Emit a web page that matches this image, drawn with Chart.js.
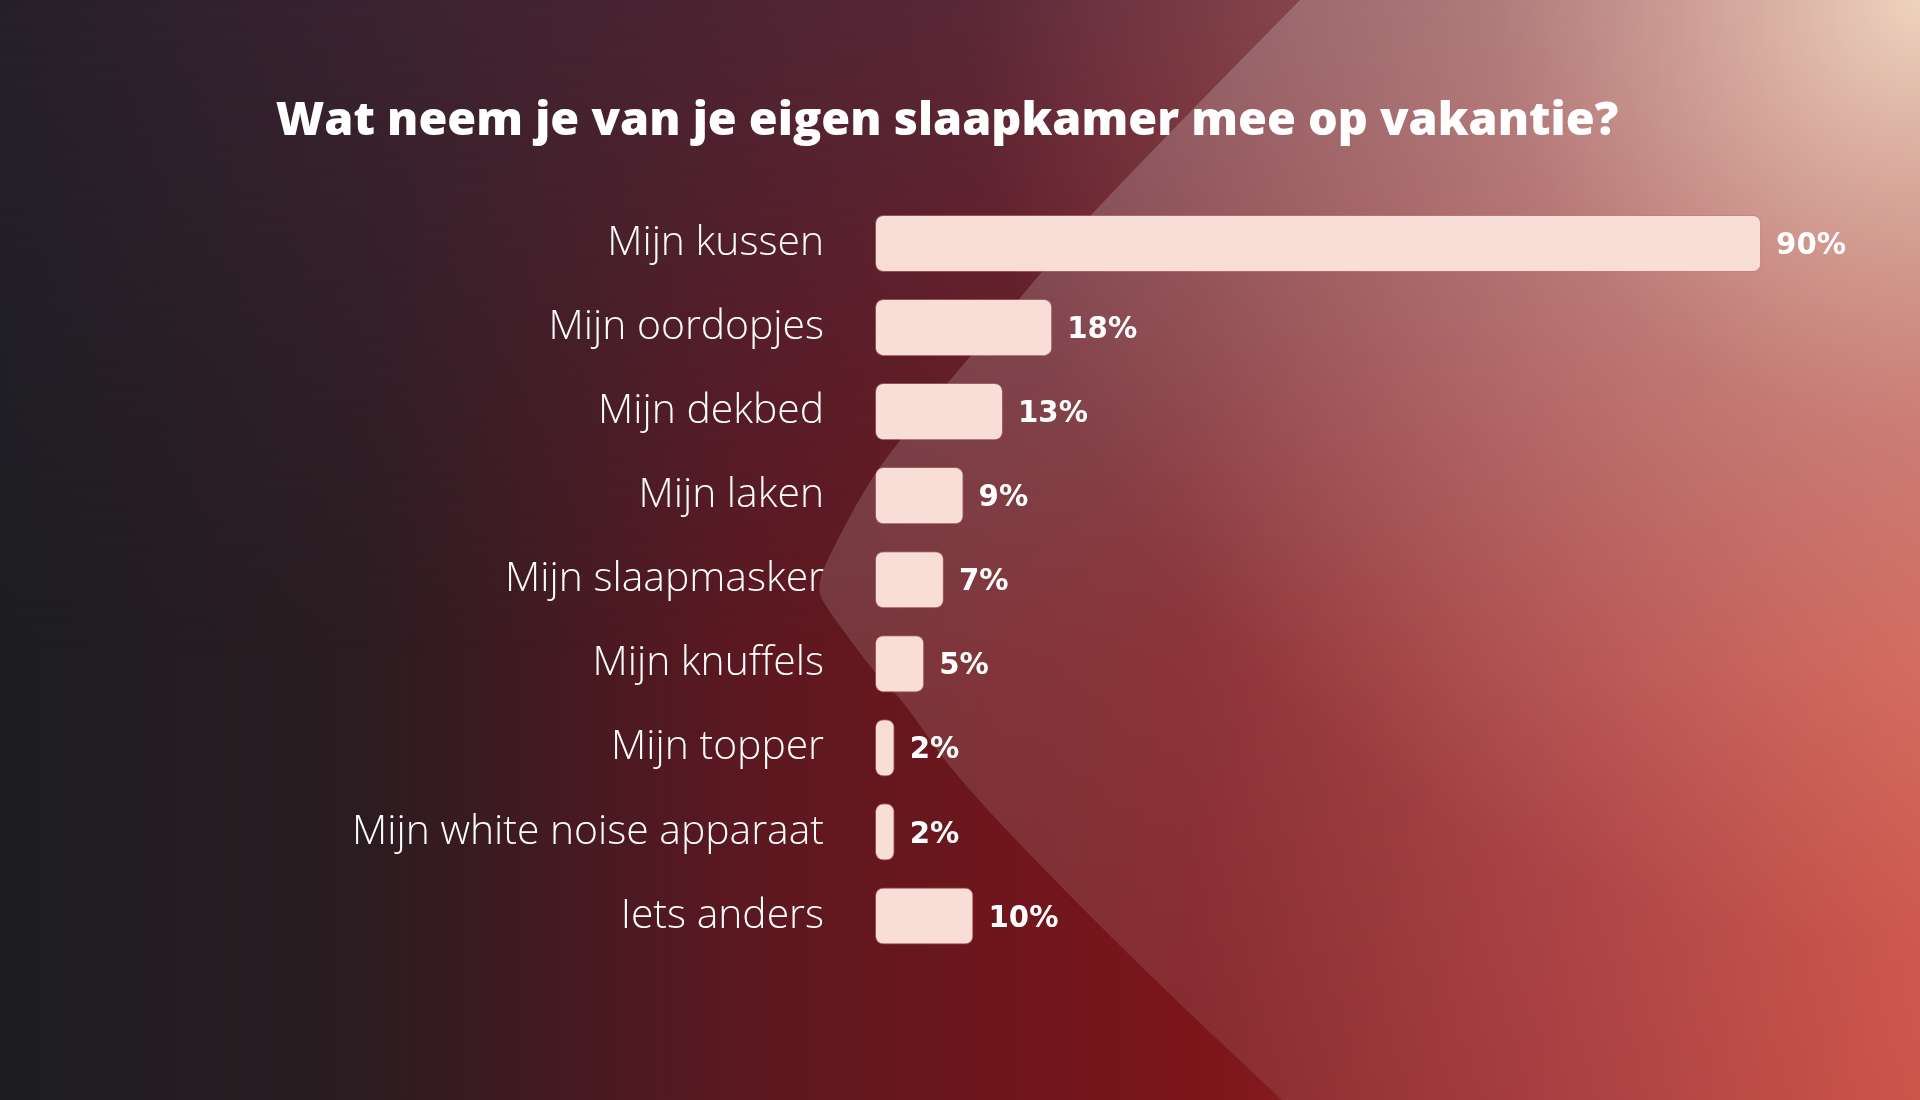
<!DOCTYPE html>
<html>
<head>
<meta charset="utf-8">
<script src="https://cdn.jsdelivr.net/npm/chart.js@4/dist/chart.umd.min.js"></script>
<style>
  html, body { margin: 0; padding: 0; background: #1c1d21; }
  #wrap { position: relative; width: 1920px; height: 1100px; }
</style>
</head>
<body>
<div id="wrap"><canvas id="survey"></canvas></div>
<script>
// --- data ---
const categories = [
  'Mijn kussen',
  'Mijn oordopjes',
  'Mijn dekbed',
  'Mijn laken',
  'Mijn slaapmasker',
  'Mijn knuffels',
  'Mijn topper',
  'Mijn white noise apparaat',
  'Iets anders'
];
const percentages = [90, 18, 13, 9, 7, 5, 2, 2, 10];
const chartTitle = 'Wat neem je van je eigen slaapkamer mee op vakantie?';

// horizontal colour bands for the backdrop (top row / lower rows)
const topRow = [[0, '#26202a'], [0.19, '#3a2330'], [0.38, '#4e2433'], [0.57, '#602a3a'], [0.75, '#6a2a3a'], [1, '#7e323d']];
const lowRow = [[0, '#1c1d21'], [0.19, '#2b1c21'], [0.38, '#5a1820'], [0.52, '#6e161c'], [0.62, '#7a151a'], [0.8, '#9e2b2e'], [1, '#c84539']];
// outline of the light sheen on the right
const sheenEdge = [[1300, 0], [1090, 213], [1033, 283], [950, 380], [900, 440], [870, 480], [837, 540], [815, 587],
  [830, 613], [880, 680], [903, 700], [957, 780], [1133, 960], [1282, 1100]];

// pick a font size so a string gets a given width
const fitSize = (text, font, target) => {
  const c = document.createElement('canvas').getContext('2d');
  c.font = font.replace('{s}', '100px');
  return 100 * target / c.measureText(text).width;
};
const titleSize = fitSize(chartTitle, '800 {s} "Open Sans"', 1343);
const tickSize = fitSize('Mijn white noise apparaat', '300 {s} "Open Sans"', 472);
const valueSize = fitSize('90%', 'bold {s} "DejaVu Sans"', 70);
const titleLine = titleSize * 1.2;
const titleTop = 122 - titleLine / 2;

const hGrad = (ctx, w, stops) => {
  const g = ctx.createLinearGradient(0, 0, w, 0);
  stops.forEach(s => g.addColorStop(s[0], s[1]));
  return g;
};

// background: blended gradients + light curved overlay on the right
const backdrop = {
  id: 'backdrop',
  beforeDraw(chart) {
    const { ctx, width: w, height: h } = chart;
    ctx.save();
    ctx.fillStyle = hGrad(ctx, w, topRow);
    ctx.fillRect(0, 0, w, h);

    // lower band faded in from the top
    const off = document.createElement('canvas');
    off.width = w; off.height = h;
    const o = off.getContext('2d');
    o.fillStyle = hGrad(o, w, lowRow);
    o.fillRect(0, 0, w, h);
    o.globalCompositeOperation = 'destination-in';
    const fade = o.createLinearGradient(0, 0, 0, h * 0.6);
    fade.addColorStop(0, 'rgba(0,0,0,0)');
    fade.addColorStop(1, 'rgba(0,0,0,1)');
    o.fillStyle = fade;
    o.fillRect(0, 0, w, h);
    ctx.drawImage(off, 0, 0);

    // peach glow top right
    const glow = ctx.createRadialGradient(w, 0, 0, w, 0, 950);
    glow.addColorStop(0, 'rgba(234,200,174,1)');
    glow.addColorStop(0.45, 'rgba(222,155,136,0.42)');
    glow.addColorStop(1, 'rgba(220,130,110,0)');
    ctx.fillStyle = glow;
    ctx.fillRect(0, 0, w, h);

    // translucent sheen
    const sheen = ctx.createLinearGradient(0, 0, 0, h);
    sheen.addColorStop(0, 'rgba(255,255,255,0.2)');
    sheen.addColorStop(1, 'rgba(255,255,255,0.09)');
    ctx.fillStyle = sheen;
    ctx.beginPath();
    ctx.moveTo(sheenEdge[0][0], sheenEdge[0][1]);
    for (let i = 1; i < sheenEdge.length - 1; i++) {
      const [x, y] = sheenEdge[i];
      const [nx, ny] = sheenEdge[i + 1];
      ctx.quadraticCurveTo(x, y, (x + nx) / 2, (y + ny) / 2);
    }
    const last = sheenEdge[sheenEdge.length - 1];
    ctx.lineTo(last[0], last[1]);
    ctx.lineTo(w, h);
    ctx.lineTo(w, 0);
    ctx.closePath();
    ctx.fill();
    ctx.restore();
  }
};

// percentage next to each bar
const valueLabels = {
  id: 'valueLabels',
  afterDatasetsDraw(chart) {
    const { ctx } = chart;
    const bars = chart.getDatasetMeta(0).data;
    ctx.save();
    ctx.fillStyle = '#ffffff';
    ctx.font = `bold ${valueSize}px "DejaVu Sans"`;
    ctx.textAlign = 'left';
    ctx.textBaseline = 'middle';
    bars.forEach((bar, i) => {
      ctx.fillText(percentages[i] + '%', bar.x + 15, bar.y + 3);
    });
    ctx.restore();
  }
};

const ctx = document.getElementById('survey').getContext('2d');
new Chart(ctx, {
  type: 'bar',
  data: {
    labels: categories,
    datasets: [{
      data: percentages,
      backgroundColor: '#f9ddd7',
      borderColor: 'rgba(196,120,118,0.55)',
      borderWidth: 1,
      borderRadius: 8,
      borderSkipped: false,
      barPercentage: 0.68,
      categoryPercentage: 1
    }]
  },
  options: {
    indexAxis: 'y',
    responsive: true,
    maintainAspectRatio: false,
    devicePixelRatio: 1,
    animation: false,
    layout: { padding: { left: 0, right: 26, top: 0, bottom: 142 } },
    scales: {
      x: { display: false, min: 0, max: 103.5 },
      y: {
        grid: { display: false, drawTicks: false },
        border: { display: false },
        ticks: {
          color: '#ffffff',
          padding: 51,
          font: { family: 'Open Sans', weight: 300, size: tickSize }
        },
        afterFit: (scale) => { scale.width = 875; }
      }
    },
    plugins: {
      legend: { display: false },
      tooltip: { enabled: false },
      title: {
        display: true,
        text: chartTitle,
        color: '#ffffff',
        font: { family: 'Open Sans', weight: 800, size: titleSize, lineHeight: 1.2 },
        padding: { top: titleTop, bottom: 201.5 - titleTop - titleLine }
      }
    }
  },
  plugins: [backdrop, valueLabels]
});
</script>
</body>
</html>
